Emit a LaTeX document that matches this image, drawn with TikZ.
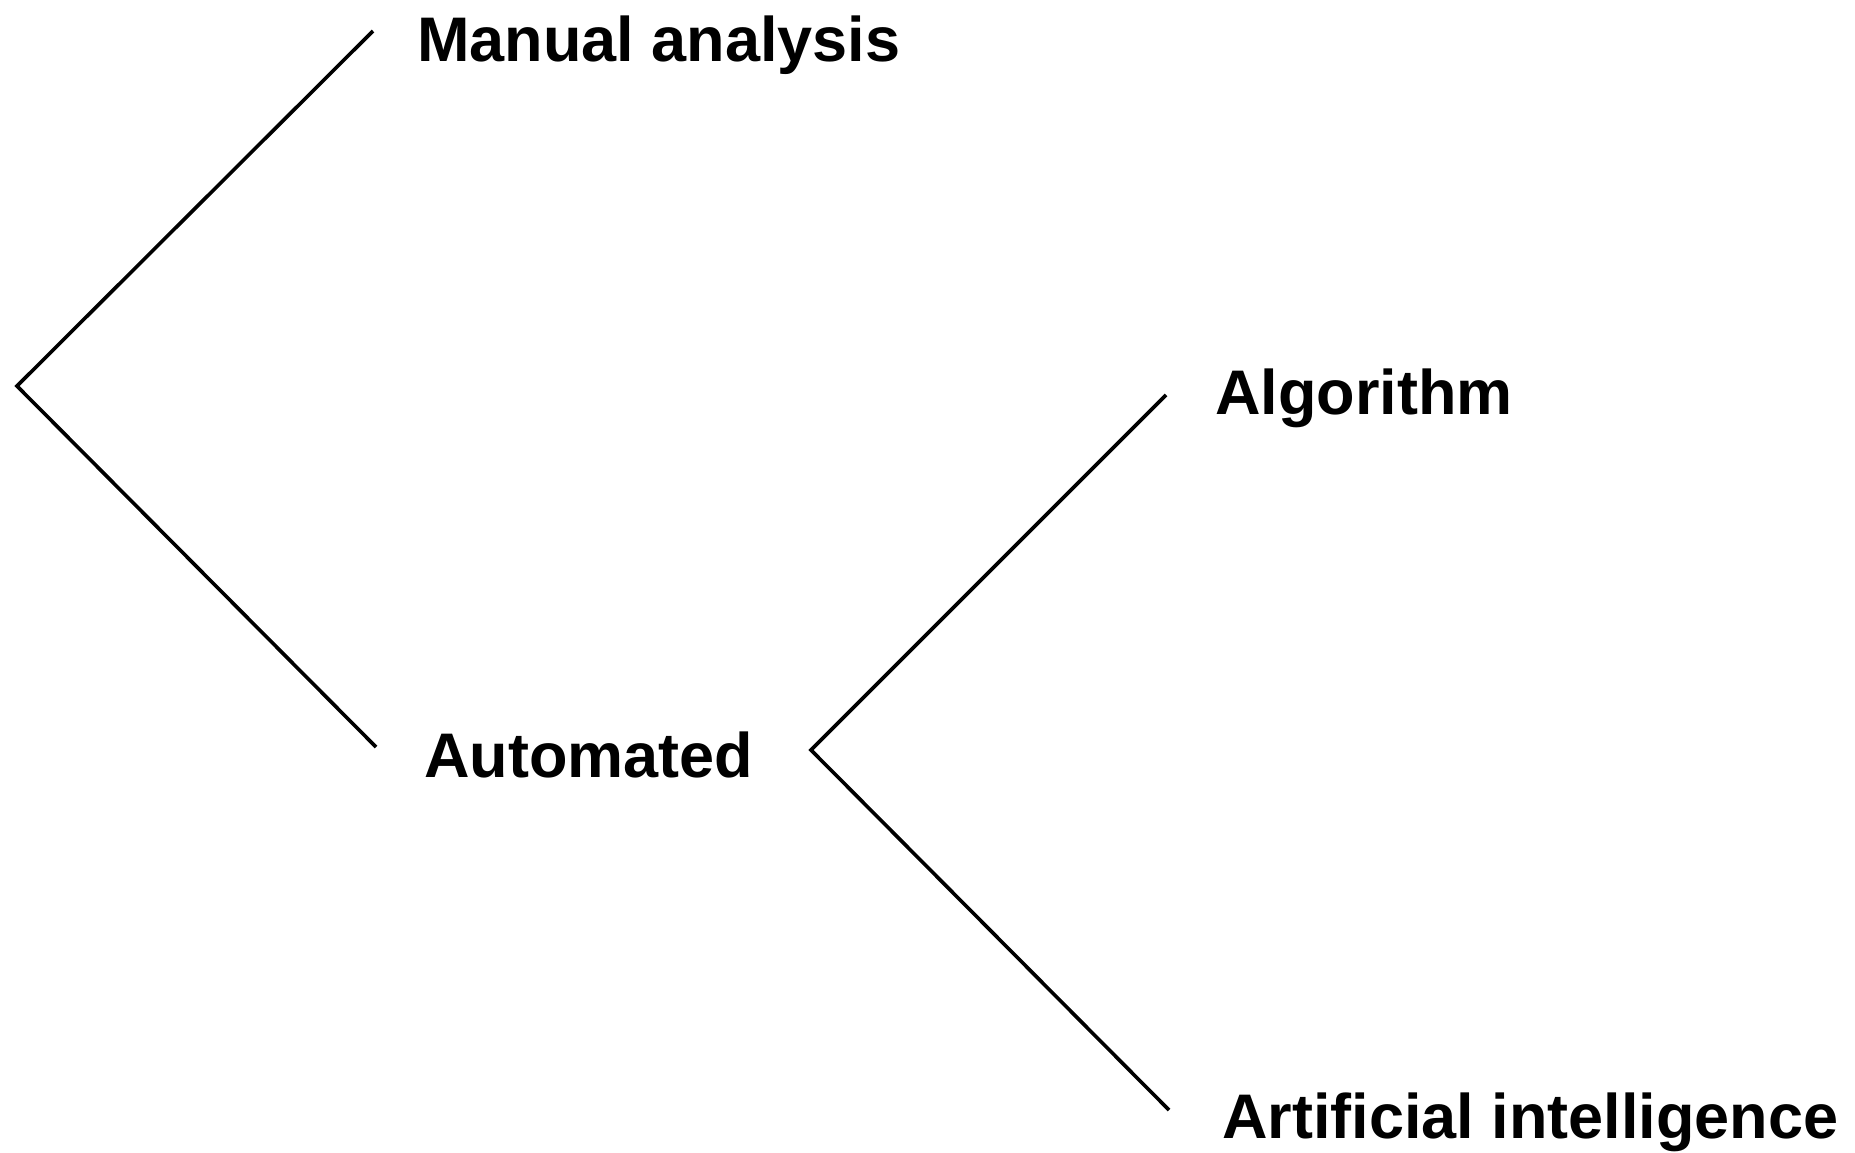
\documentclass[tikz,border=0pt]{standalone}
\usepackage{fontspec}
\setmainfont{Liberation Sans}
\begin{document}
\begin{tikzpicture}[x=1pt,y=-1pt,
  lbl/.style={anchor=base west,inner sep=0pt,font=\fontsize{63}{76}\selectfont\bfseries},
  branch/.style={draw=black,line width=3.6pt}]
\useasboundingbox (0,0) rectangle (1855,1152);
% labels
\node[lbl] (man) at (417,61) {Manual analysis};
\node[lbl] (aut) at (424,777) {Automated};
\node[lbl] (alg) at (1215,414) {Algorithm};
\node[lbl] (ai) at (1222,1138) {Artificial intelligence};
% branch points
\coordinate (root) at (17,386);
\coordinate (autv) at (811,750);
\coordinate (manend) at (373,31);
\coordinate (autend) at (376,747);
\coordinate (algend) at (1166,395);
\coordinate (aiend) at (1169,1110);
% connectors
\draw[branch] (manend) -- (root) -- (autend);
\draw[branch] (algend) -- (autv) -- (aiend);
\end{tikzpicture}
\end{document}
